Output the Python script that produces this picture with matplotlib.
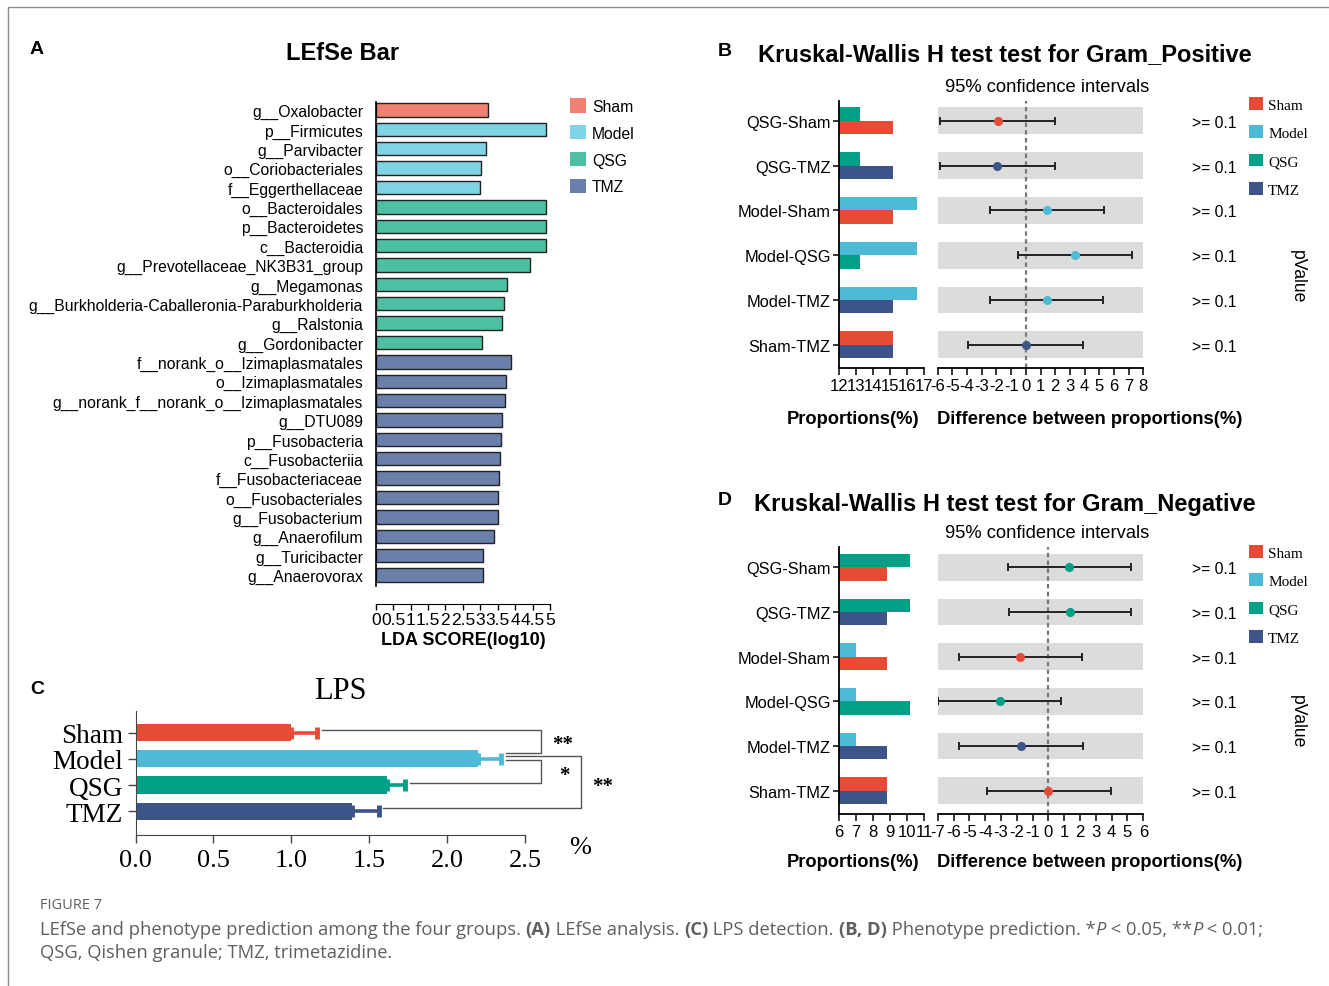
import matplotlib
matplotlib.use("Agg")
import matplotlib.pyplot as plt
from matplotlib.patches import Patch, Rectangle

plt.rcParams["font.family"] = ["Liberation Sans", "DejaVu Sans"]
plt.rcParams["axes.unicode_minus"] = False

W, H = 1329, 987
SERIF = ["Liberation Serif", "DejaVu Serif"]

# ---------------- data ----------------
groups = ["Sham", "Model", "QSG", "TMZ"]

lefse_taxa = [
    "g__Oxalobacter", "p__Firmicutes", "g__Parvibacter", "o__Coriobacteriales",
    "f__Eggerthellaceae", "o__Bacteroidales", "p__Bacteroidetes", "c__Bacteroidia",
    "g__Prevotellaceae_NK3B31_group", "g__Megamonas",
    "g__Burkholderia-Caballeronia-Paraburkholderia", "g__Ralstonia", "g__Gordonibacter",
    "f__norank_o__Izimaplasmatales", "o__Izimaplasmatales",
    "g__norank_f__norank_o__Izimaplasmatales", "g__DTU089", "p__Fusobacteria",
    "c__Fusobacteriia", "f__Fusobacteriaceae", "o__Fusobacteriales", "g__Fusobacterium",
    "g__Anaerofilum", "g__Turicibacter", "g__Anaerovorax",
]
lefse_lda = [3.21, 4.89, 3.15, 3.03, 2.98, 4.88, 4.88, 4.88, 4.44, 3.78, 3.68, 3.63,
             3.06, 3.89, 3.75, 3.72, 3.62, 3.60, 3.58, 3.53, 3.51, 3.51, 3.40, 3.08, 3.08]
lefse_group = ["Sham"] + ["Model"] * 4 + ["QSG"] * 8 + ["TMZ"] * 12
lda_ticks = [0, 0.5, 1, 1.5, 2, 2.5, 3, 3.5, 4, 4.5, 5]
lda_ticklabels = ["0", "0.5", "1", "1.5", "2", "2.5", "3", "3.5", "4", "4.5", "5"]

comparisons = [("QSG", "Sham"), ("QSG", "TMZ"), ("Model", "Sham"),
               ("Model", "QSG"), ("Model", "TMZ"), ("Sham", "TMZ")]
pvalue_labels = [">= 0.1"] * 6

# Gram positive (B)
pos_prop = [15.15, 16.6, 13.25, 15.2]
pos_diff = [-1.92, -1.95, 1.42, 3.35, 1.42, -0.01]
pos_ci_low = [-5.82, -5.82, -2.44, -0.53, -2.44, -3.92]
pos_ci_high = [1.99, 1.97, 5.30, 7.21, 5.28, 3.89]
pos_point_group = ["Sham", "TMZ", "Model", "Model", "Model", "TMZ"]

# Gram negative (D)
neg_prop = [8.8, 7.0, 10.15, 8.8]
neg_diff = [1.32, 1.34, -1.78, -3.08, -1.76, 0.0]
neg_ci_low = [-2.54, -2.52, -5.65, -6.98, -5.65, -3.88]
neg_ci_high = [5.22, 5.22, 2.12, 0.81, 2.16, 3.94]
neg_point_group = ["QSG", "QSG", "Sham", "QSG", "TMZ", "Sham"]

# LPS (C)
lps_mean = [1.0, 2.20, 1.616, 1.39]
lps_err = [0.167, 0.145, 0.114, 0.17]
lps_pairs = [(0, 1, "**"), (1, 2, "*"), (1, 3, "**")]

# ---------------- styles ----------------
lefse_colors = {"Sham": "#F08172", "Model": "#80D2E5", "QSG": "#4DBFA3", "TMZ": "#6B7FAB"}
npg = {"Sham": "#E64B35", "Model": "#4DBBD5", "QSG": "#00A087", "TMZ": "#3C5488"}


def rect(x0, y0, x1, y1):
    return [x0 / W, 1 - y1 / H, (x1 - x0) / W, (y1 - y0) / H]


def fx(x):
    return x / W


def fy(y):
    return 1 - y / H


fig = plt.figure(figsize=(W / 100, H / 100), dpi=100)

# ---------------- panel A ----------------
axA = fig.add_axes(rect(375.7, 102.7, 550, 586.7))
# move the spine first: set_position resets the tick formatting
axA.spines["bottom"].set_position(("outward", 13))
ypos = list(range(len(lefse_taxa)))
axA.barh(ypos, lefse_lda, height=0.69, color=[lefse_colors[g] for g in lefse_group],
         edgecolor="#222222", linewidth=1.0)
axA.set_ylim(len(lefse_taxa) - 0.45, -0.43)
axA.set_xlim(0, 5)
axA.set_yticks(ypos)
axA.set_yticklabels(lefse_taxa, fontsize=11.3)
axA.set_xticks(lda_ticks)
axA.set_xticklabels(lda_ticklabels, fontsize=12.5)
axA.tick_params(axis="y", length=0, pad=9)
axA.tick_params(axis="x", length=4, width=1, pad=2)
for s in ["top", "right"]:
    axA.spines[s].set_visible(False)
axA.spines["left"].set_linewidth(1.2)
axA.set_xlabel("LDA SCORE(log10)", fontsize=13, fontweight="bold", labelpad=3)
axA.legend(handles=[Patch(facecolor=lefse_colors[g], label=g) for g in groups],
           loc="upper left", bbox_to_anchor=(fx(570), fy(99)), bbox_transform=fig.transFigure,
           frameon=False, fontsize=11.3, handlelength=1.05, handleheight=1.05,
           labelspacing=0.72, handletextpad=0.35, borderpad=0, borderaxespad=0)
fig.text(fx(343), fy(54), "LEfSe Bar", fontsize=17, fontweight="bold", ha="center", va="center")
fig.text(fx(37), fy(50), "A", fontsize=14, fontweight="bold", ha="center", va="center")


# ---------------- panels B and D ----------------
def phenotype(top, bottom, prop, diff, lo, hi, pgroup, plim, clim, title, letter,
              title_y, ci_y, leg_top, pval_y, xlab_y):
    n = len(comparisons)
    ylim = (n - 1 + 0.52, -0.45)
    axp = fig.add_axes(rect(839, top, 924, bottom))
    axc = fig.add_axes(rect(937.7, top, 1143.3, bottom))
    h = 0.3
    for i, (g1, g2) in enumerate(comparisons):
        axp.barh(i - h / 2, prop[groups.index(g1)], height=h, color=npg[g1])
        axp.barh(i + h / 2, prop[groups.index(g2)], height=h, color=npg[g2])
    axp.set_xlim(*plim)
    axp.set_ylim(*ylim)
    axp.set_xticks(range(plim[0], plim[1] + 1))
    axp.set_yticks(range(n))
    axp.set_yticklabels([f"{a}-{b}" for a, b in comparisons], fontsize=11.8)
    axp.tick_params(axis="y", length=4, width=1.1, pad=2)
    axp.tick_params(axis="x", length=5, width=1.1, pad=2, labelsize=12)
    for s in ["top", "right"]:
        axp.spines[s].set_visible(False)
    for s in ["left", "bottom"]:
        axp.spines[s].set_linewidth(1.3)

    axc.barh(range(n), clim[1] - clim[0], left=clim[0], height=0.6, color="#DCDCDC")
    axc.axvline(0, color="#777777", lw=1.6, ls=(0, (2, 1.5)), zorder=2)
    for i in range(n):
        axc.errorbar(diff[i], i, xerr=[[diff[i] - lo[i]], [hi[i] - diff[i]]], fmt="o",
                     color=npg[pgroup[i]], markersize=5.5, ecolor="#222222",
                     elinewidth=1.4, capsize=3, capthick=1.4, zorder=3)
    axc.set_xlim(*clim)
    axc.set_ylim(*ylim)
    axc.set_xticks(range(clim[0], clim[1] + 1))
    axc.set_yticks(range(n))
    axc.set_yticklabels(pvalue_labels, fontsize=11.3)
    axc.tick_params(axis="y", left=False, right=False, labelleft=False, labelright=True,
                    length=0, pad=35)
    axc.tick_params(axis="x", length=5, width=1.1, pad=2, labelsize=12)
    for s in ["top", "right", "left"]:
        axc.spines[s].set_visible(False)
    axc.spines["bottom"].set_linewidth(1.3)
    axc.text(1.75, 1 - (pval_y - top) / (bottom - top), "pValue", transform=axc.transAxes,
             rotation=270, ha="center", va="center", fontsize=12.7)
    axc.legend(handles=[Patch(facecolor=npg[g], label=g) for g in groups],
               loc="upper left", bbox_to_anchor=(fx(1249), fy(leg_top)),
               bbox_transform=fig.transFigure, frameon=False,
               prop={"family": SERIF, "size": 11}, handlelength=0.9, handleheight=0.9,
               labelspacing=0.9, handletextpad=0.35, borderpad=0, borderaxespad=0)

    fig.text(fx(1005), fy(title_y), title, fontsize=17, fontweight="bold",
             ha="center", va="center")
    fig.text(fx(725), fy(title_y - 4), letter, fontsize=14, fontweight="bold",
             ha="center", va="center")
    fig.text(fx(1047), fy(ci_y), "95% confidence intervals", fontsize=13.2,
             ha="center", va="center")
    fig.text(fx(853), fy(xlab_y), "Proportions(%)", fontsize=13.2, fontweight="bold",
             ha="center", va="center")
    fig.text(fx(1090), fy(xlab_y), "Difference between proportions(%)", fontsize=13.2,
             fontweight="bold", ha="center", va="center")


phenotype(101.7, 369, pos_prop, pos_diff, pos_ci_low, pos_ci_high, pos_point_group,
          (12, 17), (-6, 8), "Kruskal-Wallis H test test for Gram_Positive", "B",
          55, 88, 98, 277, 419)
phenotype(548.3, 815, neg_prop, neg_diff, neg_ci_low, neg_ci_high, neg_point_group,
          (6, 11), (-7, 6), "Kruskal-Wallis H test test for Gram_Negative", "D",
          505, 534, 546, 722, 863)

# ---------------- panel C ----------------
axC = fig.add_axes(rect(135.5, 712, 525, 836))
cpos = list(range(len(groups)))
axC.barh(cpos, lps_mean, height=0.66, color=[npg[g] for g in groups], zorder=2)
for i, g in enumerate(groups):
    axC.errorbar(lps_mean[i], i, xerr=[[0], [lps_err[i]]], fmt="none", ecolor=npg[g],
                 elinewidth=2.6, capsize=4, capthick=3.5, zorder=3)
axC.set_xlim(0, 2.5)
axC.set_ylim(3.9, -0.82)
axC.set_yticks(cpos)
axC.set_yticklabels(groups, fontsize=19.5, family=SERIF)
axC.set_xticks([0, 0.5, 1.0, 1.5, 2.0, 2.5])
axC.set_xticklabels(["0.0", "0.5", "1.0", "1.5", "2.0", "2.5"], fontsize=19, family=SERIF)
axC.tick_params(axis="both", length=6, width=1, color="#444444")
axC.tick_params(axis="y", pad=3)
axC.tick_params(axis="x", pad=4)
for s in ["top", "right"]:
    axC.spines[s].set_visible(False)
for s in ["left", "bottom"]:
    axC.spines[s].set_color("#444444")

bracket_x = [2.6, 2.6, 2.86]
arm_off = [(-0.1, -0.22), (0.04, -0.08), (-0.09, -0.13)]
label_pos = [(2.74, 0.45), (2.75, 1.62), (3.0, 2.02)]
for k, (a, b, star) in enumerate(lps_pairs):
    ya = a + arm_off[k][0]
    yb = b + arm_off[k][1]
    xa = lps_mean[a] + lps_err[a] + 0.03
    xb = lps_mean[b] + lps_err[b] + 0.03
    axC.plot([xa, bracket_x[k], bracket_x[k], xb], [ya, ya, yb, yb], color="#555555",
             lw=1.0, clip_on=False, zorder=1)
    axC.text(label_pos[k][0], label_pos[k][1], star, fontsize=15, family=SERIF,
             ha="center", va="center", fontweight="bold")
axC.text(fx(580), fy(848), "%", fontsize=19, family=SERIF, ha="center", va="center",
         transform=fig.transFigure)
fig.text(fx(340), fy(692), "LPS", fontsize=22, family=SERIF, ha="center", va="center")
fig.text(fx(37), fy(690), "C", fontsize=14, fontweight="bold", ha="center", va="center")

# ---------------- caption ----------------
fig.add_artist(Rectangle((fx(8), -0.1), 1.2, fy(8) + 0.1, fill=False, edgecolor="#8a8a8a",
                         lw=1.0, transform=fig.transFigure))
cap_kw = dict(fontsize=13.2, color="#5f5f5f", family=["Open Sans", "DejaVu Sans"], va="center")
fig.text(fx(40), fy(906), "FIGURE 7", fontsize=10.5, color="#5f5f5f",
         family=["Open Sans", "DejaVu Sans"], va="center")

renderer = fig.canvas.get_renderer()


def rich_line(x, y, parts):
    for s, weight, style in parts:
        t = fig.text(x, y, s, fontweight=weight, fontstyle=style, **cap_kw)
        x += t.get_window_extent(renderer).width / W


rich_line(fx(40), fy(930), [
    ("LEfSe and phenotype prediction among the four groups. ", "normal", "normal"),
    ("(A)", "bold", "normal"),
    (" LEfSe analysis. ", "normal", "normal"),
    ("(C)", "bold", "normal"),
    (" LPS detection. ", "normal", "normal"),
    ("(B, D)", "bold", "normal"),
    (" Phenotype prediction. *", "normal", "normal"),
    ("P", "normal", "italic"),
    (" < 0.05, **", "normal", "normal"),
    ("P", "normal", "italic"),
    (" < 0.01;", "normal", "normal"),
])
fig.text(fx(40), fy(953), "QSG, Qishen granule; TMZ, trimetazidine.", **cap_kw)

fig.savefig("out.png", dpi=100)
